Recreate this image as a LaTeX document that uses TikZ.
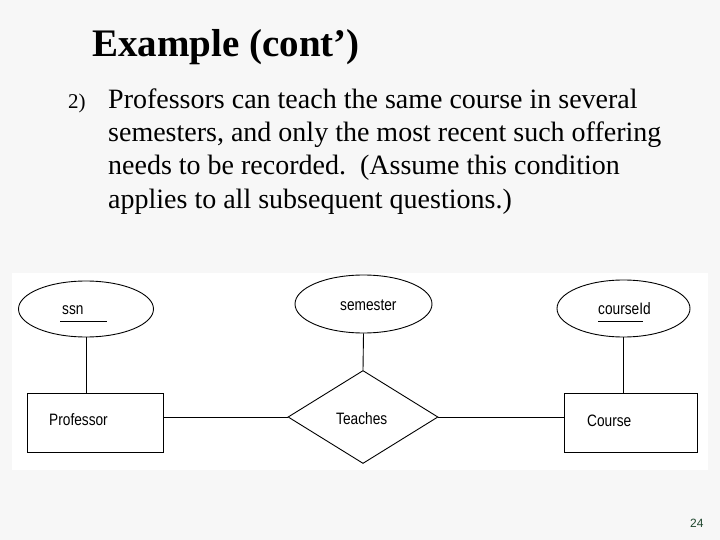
\documentclass[tikz,border=0pt]{standalone}
\usepackage{fontspec}
\setmainfont{Liberation Serif}
\newfontfamily\diagfont{Liberation Sans}
\usepackage{graphicx}
\usetikzlibrary{shapes.geometric}
\definecolor{slidebg}{RGB}{247,247,247}
\definecolor{pagenum}{RGB}{30,70,45}
\newcommand{\erlabel}[1]{\scalebox{0.83}[1]{\diagfont\fontsize{16.5}{18}\selectfont #1}}
\tikzset{
  every picture/.style={x=1pt,y=-1pt},
  erline/.style={draw=black,line width=0.9pt},
  attr/.style={ellipse,draw=black,line width=0.9pt,inner sep=0pt},
  entity/.style={rectangle,draw=black,line width=0.9pt,inner sep=0pt},
  rel/.style={diamond,draw=black,line width=0.9pt,inner sep=0pt},
  erlab/.style={inner sep=0pt,anchor=base west},
  bodytext/.style={inner sep=0pt,anchor=base west,font=\fontsize{28}{33}\selectfont}
}
\begin{document}
\begin{tikzpicture}[x=1pt,y=-1pt]
\useasboundingbox (0,0) rectangle (720,540);
\fill[slidebg] (0,0) rectangle (720,540);
% title
\node[inner sep=0pt,anchor=base west,font=\fontsize{39}{44}\selectfont\bfseries] (title) at (92,56.5) {Example (cont’)};
% item
\node[inner sep=0pt,anchor=base west,font=\fontsize{21}{24}\selectfont] (num) at (68,109) {2)};
\node[bodytext] (l1) at (108,109) {Professors can teach the same course in several};
\node[bodytext] (l2) at (108,142) {semesters, and only the most recent such offering};
\node[bodytext] (l3) at (108,175) {needs to be recorded.\ \ (Assume this condition};
\node[bodytext] (l4) at (108,208) {applies to all subsequent questions.)};
% diagram panel
\fill[white] (12,273) rectangle (708,470);
% attributes
\node[attr,minimum width=135pt,minimum height=56pt] (ssn) at (86,309) {};
\node[attr,minimum width=137pt,minimum height=58pt] (sem) at (363.5,304) {};
\node[attr,minimum width=133pt,minimum height=57pt] (cid) at (623.5,308.5) {};
% entities and relationship
\node[entity,minimum width=136pt,minimum height=59pt] (prof) at (95,422.5) {};
\node[entity,minimum width=133pt,minimum height=59pt] (course) at (630.5,422.5) {};
\node[rel,minimum width=150pt,minimum height=93pt,aspect=1.61] (teach) at (363,417) {};
% labels
\node[erlab] (ssnl) at (62,314.5) {\erlabel{ssn}};
\node[erlab] (seml) at (340,310.5) {\erlabel{semester}};
\node[erlab] (cidl) at (598,314) {\erlabel{courseId}};
\node[erlab] (profl) at (49,425.5) {\erlabel{Professor}};
\node[erlab] (coursel) at (587,426) {\erlabel{Course}};
\node[erlab] (teachl) at (336,424.5) {\erlabel{Teaches}};
% underlines of key attributes
\coordinate (u1a) at (60,321); \coordinate (u1b) at (107,321);
\coordinate (u2a) at (598,321); \coordinate (u2b) at (643,321);
\draw[erline] (u1a) -- (u1b);
\draw[erline] (u2a) -- (u2b);
% connectors
\draw[erline] (ssn.south) -- (ssn.south |- prof.north);
\draw[erline] (sem.south) -- (teach.north);
\draw[erline] (cid.south) -- (cid.south |- course.north);
\draw[erline] (prof.east |- teach.west) -- (teach.west);
\draw[erline] (teach.east) -- (course.west |- teach.east);
% page number
\node[inner sep=0pt,anchor=base west,font=\diagfont\fontsize{12}{14}\selectfont,text=pagenum] (page) at (690,527.5) {24};
\end{tikzpicture}
\end{document}
